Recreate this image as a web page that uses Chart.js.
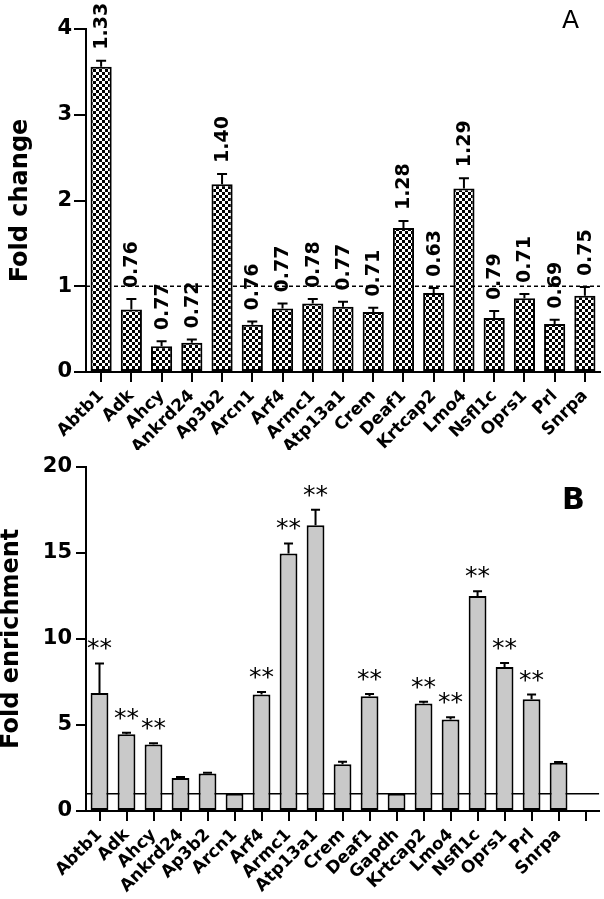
<!DOCTYPE html>
<html>
<head>
<meta charset="utf-8">
<script src="https://cdn.jsdelivr.net/npm/chart.js@4.4.1/dist/chart.umd.min.js"></script>
<style>
  body { margin: 0; background: #fff; }
  canvas { position: absolute; left: 0; }
</style>
</head>
<body>
<canvas id="chartA" width="604" height="450" style="top:0"></canvas>
<canvas id="chartB" width="604" height="449" style="top:450px"></canvas>
<script>
// panel A - fold change
const genesA = ["Abtb1", "Adk", "Ahcy", "Ankrd24", "Ap3b2", "Arcn1", "Arf4", "Armc1", "Atp13a1",
    "Crem", "Deaf1", "Krtcap2", "Lmo4", "Nsfl1c", "Oprs1", "Prl", "Snrpa"];
const foldChange = [3.56, 0.73, 0.30, 0.34, 2.19, 0.55, 0.74, 0.80, 0.76, 0.70, 1.68, 0.92, 2.14, 0.63, 0.86, 0.56, 0.89];
const foldChangeErr = [0.07, 0.12, 0.06, 0.04, 0.12, 0.04, 0.06, 0.05, 0.06, 0.05, 0.08, 0.06, 0.12, 0.08, 0.05, 0.05, 0.10];
const valueLabelsA = ["1.33", "0.76", "0.77", "0.72", "1.40", "0.76", "0.77", "0.78", "0.77",
    "0.71", "1.28", "0.63", "1.29", "0.79", "0.71", "0.69", "0.75"];
const ticksA = [0, 1, 2, 3, 4];

// panel B - fold enrichment (last slot is an empty category)
const genesB = ["Abtb1", "Adk", "Ahcy", "Ankrd24", "Ap3b2", "Arcn1", "Arf4", "Armc1", "Atp13a1",
    "Crem", "Deaf1", "Gapdh", "Krtcap2", "Lmo4", "Nsfl1c", "Oprs1", "Prl", "Snrpa", ""];
const enrichment = [6.85, 4.46, 3.86, 1.91, 2.18, 1.0, 6.76, 14.96, 16.6, 2.72, 6.66, 1.0, 6.24, 5.31, 12.49, 8.36, 6.49, 2.80, null];
const enrichmentErr = [1.72, 0.08, 0.08, 0.06, 0.04, 0, 0.15, 0.58, 0.89, 0.14, 0.13, 0, 0.11, 0.13, 0.27, 0.23, 0.27, 0.04, null];
const signifB = ["**", "**", "**", "", "", "", "**", "**", "**", "", "**", "", "**", "**", "**", "**", "**", "", ""];
const ticksB = [0, 5, 10, 15, 20];

const FONT = "'DejaVu Sans', sans-serif";
Chart.defaults.font.family = FONT;
Chart.defaults.color = "#000";

// checkerboard fill for panel A bars
function makeChecker() {
    const pc = document.createElement("canvas");
    pc.width = 6;
    pc.height = 6;
    const p = pc.getContext("2d");
    p.fillStyle = "#fff";
    p.fillRect(0, 0, 6, 6);
    p.fillStyle = "#000";
    p.fillRect(0, 0, 3, 3);
    p.fillRect(3, 3, 3, 3);
    return document.getElementById("chartA").getContext("2d").createPattern(pc, "repeat");
}

function drawErrorBars(chart, errs, capHalf) {
    const ctx = chart.ctx;
    const meta = chart.getDatasetMeta(0);
    const yScale = chart.scales.y;
    const values = chart.data.datasets[0].data;
    ctx.save();
    ctx.strokeStyle = "#000";
    ctx.lineWidth = 2;
    meta.data.forEach(function (bar, i) {
        if (values[i] == null || !errs[i]) return;
        const top = yScale.getPixelForValue(values[i] + errs[i]);
        ctx.beginPath();
        ctx.moveTo(bar.x, bar.y);
        ctx.lineTo(bar.x, top);
        ctx.moveTo(bar.x - capHalf, top);
        ctx.lineTo(bar.x + capHalf, top);
        ctx.stroke();
    });
    ctx.restore();
}

function refLine(chart, value, dashed) {
    const ctx = chart.ctx;
    const y = chart.scales.y.getPixelForValue(value);
    ctx.save();
    ctx.strokeStyle = "#000";
    ctx.lineWidth = 1.5;
    if (dashed) ctx.setLineDash([4, 3]);
    ctx.beginPath();
    ctx.moveTo(chart.chartArea.left, y);
    ctx.lineTo(chart.chartArea.right, y);
    ctx.stroke();
    ctx.restore();
}

const panelAExtras = {
    id: "panelAExtras",
    beforeDatasetsDraw(chart) {
        refLine(chart, 1, true);
    },
    afterDatasetsDraw(chart) {
        drawErrorBars(chart, foldChangeErr, 5);
        const ctx = chart.ctx;
        const meta = chart.getDatasetMeta(0);
        const yScale = chart.scales.y;
        ctx.save();
        ctx.fillStyle = "#000";
        ctx.font = "bold 19px " + FONT;
        ctx.textAlign = "left";
        ctx.textBaseline = "middle";
        meta.data.forEach(function (bar, i) {
            const top = yScale.getPixelForValue(foldChange[i] + foldChangeErr[i]);
            ctx.save();
            ctx.translate(bar.x, top - 11);
            ctx.rotate(-Math.PI / 2);
            ctx.fillText(valueLabelsA[i], 0, 1);
            ctx.restore();
        });
        ctx.font = "25px " + FONT;
        ctx.textBaseline = "alphabetic";
        ctx.fillText("A", 562, 28);
        ctx.restore();
    }
};

const panelBExtras = {
    id: "panelBExtras",
    beforeDatasetsDraw(chart) {
        refLine(chart, 1, false);
    },
    afterDatasetsDraw(chart) {
        drawErrorBars(chart, enrichmentErr, 4.5);
        const ctx = chart.ctx;
        const meta = chart.getDatasetMeta(0);
        const yScale = chart.scales.y;
        ctx.save();
        ctx.fillStyle = "#000";
        ctx.font = "25px " + FONT;
        ctx.textAlign = "center";
        ctx.textBaseline = "alphabetic";
        meta.data.forEach(function (bar, i) {
            if (!signifB[i]) return;
            const top = yScale.getPixelForValue(enrichment[i] + enrichmentErr[i]);
            ctx.fillText(signifB[i], bar.x, top - 7);
        });
        ctx.font = "bold 30px " + FONT;
        ctx.textAlign = "left";
        ctx.fillText("B", 562, 59);
        ctx.restore();
    }
};

function axisX(height) {
    return {
        grid: { offset: false, drawOnChartArea: false, color: "#000", lineWidth: 2, tickLength: 10 },
        border: { color: "#000", width: 2 },
        ticks: { minRotation: 45, maxRotation: 45, autoSkip: false, padding: 4, font: { size: 17, weight: "bold" } },
        afterFit: function (scale) { scale.height = height; }
    };
}

function axisY(tickVals, title, tickLen, titlePad) {
    return {
        min: tickVals[0],
        max: tickVals[tickVals.length - 1],
        afterBuildTicks: function (scale) {
            scale.ticks = tickVals.map(function (v) { return { value: v }; });
        },
        grid: { drawOnChartArea: false, color: "#000", lineWidth: 2, tickLength: tickLen },
        border: { color: "#000", width: 2 },
        ticks: { padding: 14 - tickLen, font: { size: 21, weight: "bold" } },
        title: { display: true, text: title, font: { size: 24, weight: "bold", lineHeight: 1 }, padding: { top: titlePad, bottom: 0 } },
        afterFit: function (scale) { scale.width = 86; }
    };
}

new Chart(document.getElementById("chartA"), {
    type: "bar",
    data: {
        labels: genesA,
        datasets: [{
            data: foldChange,
            backgroundColor: makeChecker(),
            borderColor: "#000",
            borderWidth: 2,
            borderSkipped: false,
            barPercentage: 0.7,
            categoryPercentage: 1
        }]
    },
    options: {
        responsive: false,
        animation: false,
        devicePixelRatio: 1,
        layout: { padding: { top: 29, right: 4, left: 0, bottom: 0 } },
        plugins: { legend: { display: false }, tooltip: { enabled: false } },
        scales: {
            x: axisX(78),
            y: axisY(ticksA, "Fold change", 12, 9)
        }
    },
    plugins: [panelAExtras]
});

new Chart(document.getElementById("chartB"), {
    type: "bar",
    data: {
        labels: genesB,
        datasets: [{
            data: enrichment,
            backgroundColor: "#c9c9c9",
            borderColor: "#000",
            borderWidth: 2,
            borderSkipped: false,
            barPercentage: 0.66,
            categoryPercentage: 1
        }]
    },
    options: {
        responsive: false,
        animation: false,
        devicePixelRatio: 1,
        layout: { padding: { top: 16, right: 0, left: 0, bottom: 0 } },
        plugins: { legend: { display: false }, tooltip: { enabled: false } },
        scales: {
            x: axisX(88),
            y: axisY(ticksB, "Fold enrichment", 10, 0)
        }
    },
    plugins: [panelBExtras]
});
</script>
</body>
</html>
